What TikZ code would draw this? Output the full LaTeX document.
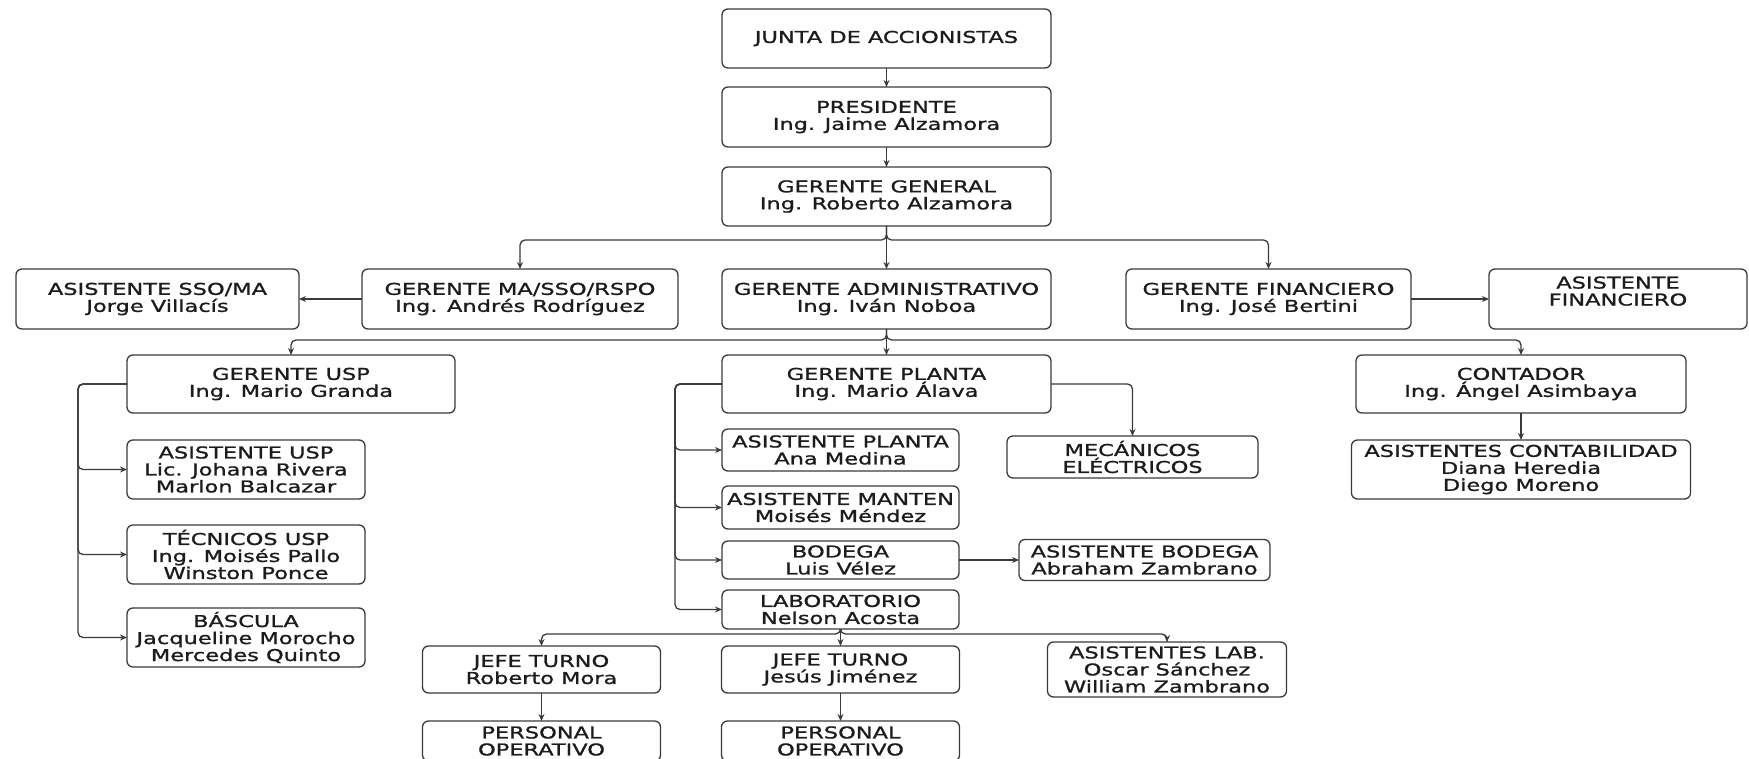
\documentclass[tikz,border=0pt]{standalone}
\usepackage{fontspec}
\setmainfont[FakeStretch=1.38,FakeBold=1.2]{DejaVu Sans}
\usetikzlibrary{arrows.meta,positioning}
\definecolor{linegray}{HTML}{3A3A3A}
\definecolor{textgray}{HTML}{1C1C1C}
\newcommand{\orgfont}{\fontsize{16.3}{17}\selectfont}

\begin{document}
\begin{tikzpicture}[x=1pt,y=-1pt,->,>={Stealth[length=7pt,width=6pt]},line width=1.3pt,
	every edge/.style={draw=linegray},
	link/.style={draw=linegray,rounded corners=5pt},
	org node/.style={rectangle,draw=linegray,rounded corners=6pt,align=center,inner sep=1pt,
		outer sep=0pt,font=\orgfont,text=textgray},
	main node/.style={org node,minimum width=329pt,minimum height=59pt},
	usp node/.style={org node,minimum width=238pt,minimum height=59pt},
	plant node/.style={org node,minimum width=237pt,minimum height=41pt},
	shift node/.style={org node,minimum width=238pt,minimum height=47pt}]
	\useasboundingbox (0,0) rectangle (1749,759);

	% top of the chart
	\node[main node] (junta) at (886.5,38.5) {JUNTA DE ACCIONISTAS};
	\node[main node,minimum height=60pt] (pres) [below=19pt of junta] {PRESIDENTE\\Ing. Jaime Alzamora};
	\node[main node] (gg) [below=20pt of pres] {GERENTE GENERAL\\Ing. Roberto Alzamora};

	% gerentes
	\node[main node,minimum height=60pt] (gadm) [below=43pt of gg] {GERENTE ADMINISTRATIVO\\Ing. Iván Noboa};
	\node[org node,minimum width=316pt,minimum height=60pt] (gma) [left=44pt of gadm] {GERENTE MA/SSO/RSPO\\Ing. Andrés Rodríguez};
	\node[org node,minimum width=283pt,minimum height=60pt] (asso) [left=63pt of gma] {ASISTENTE SSO/MA\\Jorge Villacís};
	\node[org node,minimum width=285pt,minimum height=60pt] (gfin) [right=75pt of gadm] {GERENTE FINANCIERO\\Ing. José Bertini};
	\node[org node,minimum width=258pt,minimum height=60pt,text depth=16pt] (afin) [right=78pt of gfin] {ASISTENTE\\FINANCIERO};

	% second level
	\node[main node,minimum height=58pt] (gpla) [below=26pt of gadm] {GERENTE PLANTA\\Ing. Mario Álava};
	\node[org node,minimum width=328pt,minimum height=58pt] (gusp) [left=267pt of gpla] {GERENTE USP\\Ing. Mario Granda};
	\node[org node,minimum width=330pt,minimum height=58pt] (cont) [right=305pt of gpla] {CONTADOR\\Ing. Ángel Asimbaya};
	\node[org node,minimum width=339pt,minimum height=59pt] (acont) [below=27pt of cont] {ASISTENTES CONTABILIDAD\\Diana Heredia\\Diego Moreno};

	% usp
	\node[usp node] (ausp) [below=27pt of gusp.south west,anchor=north west] {ASISTENTE USP\\Lic. Johana Rivera\\Marlon Balcazar};
	\node[usp node] (tusp) [below=26pt of ausp] {TÉCNICOS USP\\Ing. Moisés Pallo\\Winston Ponce};
	\node[usp node] (basc) [below=24pt of tusp] {BÁSCULA\\Jacqueline Morocho\\Mercedes Quinto};

	% planta
	\node[plant node,minimum height=42pt] (apla) [below=16pt of gpla.south west,anchor=north west] {ASISTENTE PLANTA\\Ana Medina};
	\node[plant node,minimum height=43pt] (aman) [below=15pt of apla] {ASISTENTE MANTEN\\Moisés Méndez};
	\node[plant node,minimum height=38pt] (bod) [below=12pt of aman] {BODEGA\\Luis Vélez};
	\node[plant node,minimum height=39pt] (lab) [below=11pt of bod] {LABORATORIO\\Nelson Acosta};
	\node[org node,minimum width=251pt,minimum height=42pt] (mec) [right=48pt of apla,yshift=-7pt] {MECÁNICOS\\ELÉCTRICOS};
	\node[org node,minimum width=251pt,minimum height=41pt] (abod) [right=60pt of bod] {ASISTENTE BODEGA\\Abraham Zambrano};
	\node[shift node] (jt2) [below=17pt of lab] {JEFE TURNO\\Jesús Jiménez};
	\node[shift node] (jt1) [left=61pt of jt2] {JEFE TURNO\\Roberto Mora};
	\node[org node,minimum width=239pt,minimum height=55pt] (alab) [right=88pt of jt2] {ASISTENTES LAB.\\Oscar Sánchez\\William Zambrano};
	\node[shift node,minimum height=40pt] (po2) [below=28pt of jt2] {PERSONAL\\OPERATIVO};
	\node[shift node,minimum height=40pt] (po1) [below=28pt of jt1] {PERSONAL\\OPERATIVO};

	% bus points
	\coordinate[below=14pt of gg] (bus1);
	\coordinate[below=11pt of gadm] (bus2);
	\coordinate[below=5pt of lab] (bus3);
	\coordinate[left=49pt of gusp] (uspbar);
	\coordinate[left=47pt of gpla] (plabar);

	\path (junta) edge (pres)
	(pres) edge (gg)
	(gg) edge (gadm)
	(gma) edge (asso)
	(gfin) edge (afin)
	(gadm) edge (gpla)
	(cont) edge (acont)
	(bod) edge (abod)
	(lab) edge (jt2)
	(jt1) edge (po1)
	(jt2) edge (po2);

	\draw[link] (gg) -- (bus1) -| (gma);
	\draw[link] (gg) -- (bus1) -| (gfin);
	\draw[link] (gadm) -- (bus2) -| (gusp);
	\draw[link] (gadm) -- (bus2) -| (cont);
	\draw[link] (gusp) -- (uspbar) |- (ausp);
	\draw[link] (gusp) -- (uspbar) |- (tusp);
	\draw[link] (gusp) -- (uspbar) |- (basc);
	\draw[link] (gpla) -- (plabar) |- (apla);
	\draw[link] (gpla) -- (plabar) |- (aman);
	\draw[link] (gpla) -- (plabar) |- (bod);
	\draw[link] (gpla) -- (plabar) |- (lab);
	\draw[link] (gpla) -| (mec);
	\draw[link] (lab) -- (bus3) -| (jt1);
	\draw[link] (lab) -- (bus3) -| (alab);
\end{tikzpicture}
\end{document}
